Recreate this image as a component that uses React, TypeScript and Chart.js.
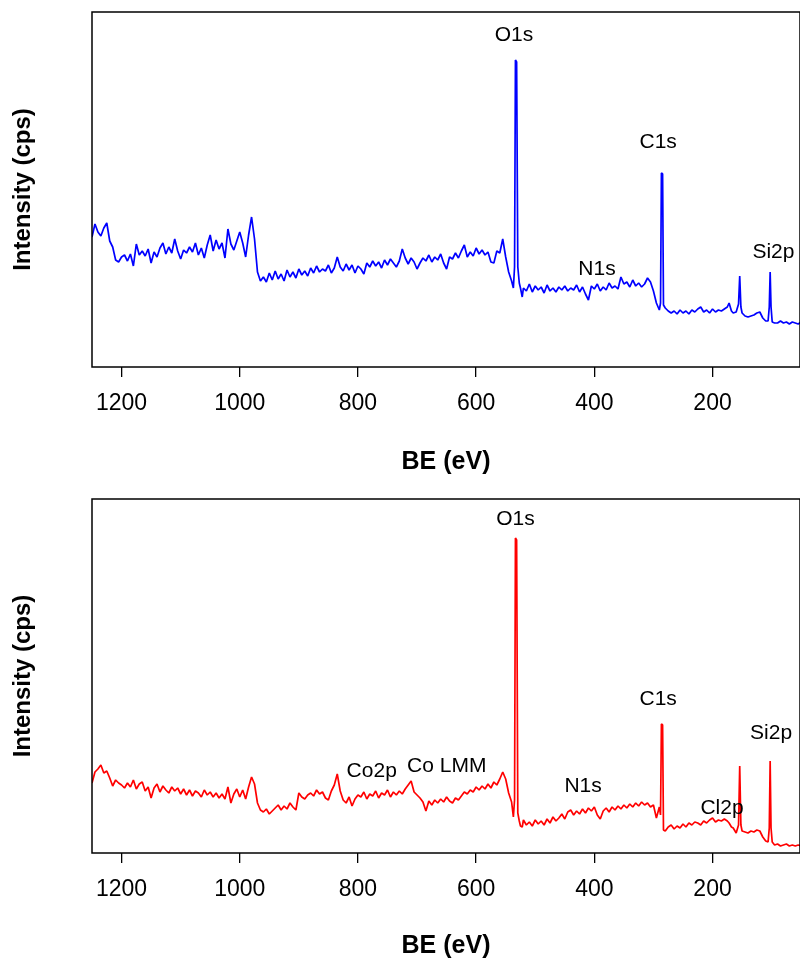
import React, { useEffect, useRef } from "react";
import { Chart, registerables } from "chart.js";

Chart.register(...registerables);

// Binding energy grid (eV), shared by both survey spectra
const bindingEnergy = [
  1250, 1245, 1240, 1235, 1230, 1225, 1220, 1215, 1210, 1205,
  1200, 1195, 1190, 1185, 1180, 1175, 1170, 1165, 1160, 1155,
  1150, 1145, 1140, 1135, 1130, 1125, 1120, 1115, 1110, 1105,
  1100, 1095, 1090, 1085, 1080, 1075, 1070, 1065, 1060, 1055,
  1050, 1045, 1040, 1035, 1030, 1025, 1020, 1015, 1010, 1005,
  1000, 995, 990, 985, 980, 975, 970, 965,
  960, 955, 950, 945, 940, 935, 930, 925, 920, 915,
  910, 905, 900, 895, 890, 885, 880, 875, 870, 865,
  860, 855, 850, 845, 840, 835, 830, 825, 820, 815,
  810, 805, 800, 795, 790, 785, 780, 775, 770, 765,
  760, 755, 750, 745, 740, 735, 730, 725, 720, 715,
  710, 705, 700, 695, 690, 685, 680, 675, 670, 665,
  660, 655, 650, 645, 640, 635, 630, 625, 620, 615,
  610, 605, 600, 595, 590, 585, 580, 575, 570, 565,
  560, 555, 550, 545, 540,
  537, 535, 533.5, 531.5, 529.5, 527, 525, 522, 520,
  515, 510, 505, 500, 495, 490, 485, 480, 475, 470,
  465, 460, 455, 450, 445, 440, 435, 430, 425, 420,
  415, 410, 405, 400, 395, 390, 385, 380, 375, 370,
  365, 360, 355, 350, 345, 340, 335, 330, 325, 320,
  315, 310, 305, 300, 295, 290,
  288, 286.5, 284.5, 283, 280,
  275, 270,
  265, 260, 255, 250, 245, 240, 235, 230, 225, 220,
  215, 210, 205, 200, 195, 190, 185, 180, 175,
  172, 168, 165, 160, 156, 154, 152, 150,
  145, 140, 135, 130, 125, 120, 115, 110,
  106, 104, 102.5, 101, 99,
  95, 90, 85, 80, 75, 70, 65, 60, 55, 50, 45, 40,
];

// Upper (blue) spectrum intensity, arbitrary units
const intensityTop = [
  13.0, 14.3, 13.5, 13.1, 13.9, 14.4, 12.6, 12.0, 10.7, 10.5,
  11.0, 11.2, 10.6, 11.3, 10.1, 12.3, 11.2, 11.6, 11.1, 11.8,
  10.4, 11.5, 11.0, 11.9, 12.4, 11.3, 12.0, 11.4, 12.8, 11.6,
  10.8, 11.7, 11.4, 12.0, 11.5, 12.4, 11.2, 11.9, 10.9, 12.2,
  13.2, 11.6, 12.7, 11.8, 12.4, 10.9, 13.8, 12.3, 11.7, 12.6,
  13.5, 12.4, 11.0, 13.2, 15.0, 12.8, 9.5, 8.6,
  9.0, 8.5, 9.4, 8.7, 9.6, 8.8, 9.3, 8.6, 9.7, 9.0,
  9.5, 8.9, 9.8, 9.2, 9.6, 9.1, 9.9, 9.4, 10.1, 9.5,
  9.8, 9.6, 10.2, 9.4, 9.9, 11.0, 10.0, 9.6, 10.3, 9.7,
  10.2, 9.4, 10.1, 9.8, 9.3, 10.4, 10.0, 10.6, 10.1, 10.5,
  9.9, 10.7, 10.2, 10.8, 10.4, 10.0, 10.6, 11.8, 10.9, 10.3,
  10.9, 10.5, 9.8, 10.4, 10.9, 10.6, 11.2, 10.5, 11.0, 10.7,
  11.3, 10.4, 9.8, 11.0, 10.8, 11.4, 10.9, 11.6, 12.2, 11.0,
  11.5, 11.1, 11.9, 11.3, 11.7, 11.2, 11.5, 10.5, 10.4, 11.6,
  11.4, 12.8, 11.0, 9.5, 8.6,
  7.9, 10.0, 30.7, 30.5, 10.0, 8.4, 7.9, 7.0, 7.9,
  7.6, 8.3, 7.5, 8.1, 7.7, 8.0, 7.4, 8.2, 7.6, 7.9,
  7.5, 8.0, 7.7, 8.1, 7.6, 7.9, 7.7, 8.2, 7.5, 8.0,
  7.3, 6.7, 8.1, 7.8, 8.3, 7.6, 8.0, 7.7, 8.4, 7.9,
  8.1, 7.8, 9.0, 8.3, 8.5, 8.0, 8.7, 8.1, 8.4, 8.0,
  8.3, 8.9, 8.5, 7.6, 6.4, 5.7,
  6.4, 19.4, 19.3, 6.2, 5.9,
  5.6, 5.4,
  5.6, 5.3, 5.7, 5.4, 5.6, 5.3, 5.7, 5.5, 5.8, 6.0,
  5.5, 5.7, 5.4, 5.8, 5.5, 5.7, 5.6, 5.8, 6.0,
  6.4, 5.6, 5.4, 5.5, 6.3, 9.1, 6.0, 5.4,
  5.1, 5.0, 5.1, 5.2, 5.4, 5.5, 4.9, 4.6,
  4.6, 6.0, 9.5, 6.0, 4.5,
  4.4, 4.4, 4.6, 4.4, 4.5, 4.3, 4.5, 4.4, 4.3, 4.5, 4.4, 4.3,
];

// Lower (red) spectrum intensity, arbitrary units
const intensityBottom = [
  7.0, 8.1, 8.4, 8.8, 8.0, 8.2, 7.5, 6.7, 7.3, 7.0,
  6.8, 6.5, 7.0, 6.6, 7.3, 6.4, 6.9, 7.1, 6.2, 6.6,
  5.5, 6.5, 6.9, 6.1, 6.7, 6.3, 6.0, 6.6, 6.2, 6.5,
  5.9, 6.4, 5.8, 6.3, 5.7, 6.2, 6.0, 5.6, 6.3, 5.8,
  6.1, 5.6, 6.0, 5.5, 5.9, 5.4, 6.6, 5.0, 5.9, 6.4,
  5.6, 6.3, 5.4, 6.6, 7.6, 6.9, 5.0, 4.3,
  4.1, 4.4, 3.9, 4.2, 4.5, 4.8, 4.3, 4.7, 4.4, 5.0,
  4.6, 4.3, 6.0, 5.6, 5.4, 5.8, 6.0, 5.7, 6.3, 5.9,
  6.1, 5.5, 5.3, 6.2, 6.8, 7.9, 6.2, 5.3, 5.0, 5.6,
  4.7, 5.4, 5.8, 5.6, 6.1, 5.4, 5.9, 5.7, 6.2, 5.5,
  6.0, 5.8, 6.3, 5.6, 6.1, 5.8, 6.2, 5.9, 6.4, 6.8,
  7.2, 6.1, 5.8, 5.5, 5.1, 4.2, 5.2, 4.8, 5.3, 5.0,
  5.4, 5.1, 5.6, 5.2, 5.0, 5.5, 5.3, 5.7, 6.1, 5.9,
  6.3, 6.1, 6.6, 6.3, 6.7, 6.4, 6.9, 6.5, 7.1, 6.8,
  7.4, 8.1, 7.4, 6.0, 5.1,
  3.6, 5.3, 31.5, 31.3, 4.0, 3.2, 2.7, 2.6, 3.3,
  2.8, 3.1, 2.7, 3.3, 2.9, 3.2, 2.8, 3.4, 3.0, 3.6,
  3.2, 3.5, 3.9, 3.4, 4.1, 4.3, 3.8, 4.2, 3.9, 4.4,
  4.0, 4.5, 4.2, 4.6, 3.8, 3.4, 4.2, 4.5, 4.1, 4.6,
  4.3, 4.7, 4.4, 4.8, 4.5, 4.9, 4.6, 5.0, 4.7, 5.1,
  4.8, 5.0, 4.6, 4.8, 3.5, 4.6,
  3.8, 12.9, 12.8, 2.3, 2.2,
  2.6, 2.8,
  2.4, 2.7, 2.5, 2.9, 2.6, 3.0, 2.8, 3.1, 3.0, 2.8,
  3.2, 3.0, 3.3, 3.5, 3.1, 3.3, 3.2, 3.4, 3.2,
  3.0, 2.6, 2.5, 2.0, 2.8, 8.7, 2.8, 2.2,
  2.1, 2.0, 2.2, 2.1, 2.3, 2.2, 1.6, 1.2,
  1.1, 2.5, 9.2, 2.5, 1.1,
  0.8, 0.9, 0.7, 0.8, 0.9, 0.7, 0.8, 0.7, 0.8, 0.7, 0.8, 0.7,
];

const tickValues = [1200, 1000, 800, 600, 400, 200];

const topPeakNames = ["O1s", "C1s", "N1s", "Si2p"];
const topPeakBE = [536, 292, 395.5, 97];
const topPeakI = [33.2, 22.5, 9.8, 11.5];

const bottomPeakNames = ["O1s", "C1s", "N1s", "Cl2p", "Si2p", "Co2p", "Co LMM"];
const bottomPeakBE = [533.4, 292, 419, 184, 101, 776.7, 649.8];
const bottomPeakI = [33.4, 15.4, 6.7, 4.5, 12.0, 8.2, 8.7];

const FONT = "'Liberation Sans', Arial, Helvetica, sans-serif";

function labelPlugin(names: string[], xs: number[], ys: number[]) {
  return {
    id: "peakLabels",
    afterDatasetsDraw(chart: any) {
      const { ctx, chartArea, scales } = chart;
      ctx.save();
      ctx.strokeStyle = "#000";
      ctx.lineWidth = 1.5;
      ctx.strokeRect(
        chartArea.left,
        chartArea.top,
        chartArea.right - chartArea.left,
        chartArea.bottom - chartArea.top
      );
      ctx.fillStyle = "#000";
      ctx.font = `21px ${FONT}`;
      ctx.textAlign = "center";
      ctx.textBaseline = "middle";
      names.forEach((t, i) => {
        ctx.fillText(t, scales.x.getPixelForValue(xs[i]), scales.y.getPixelForValue(ys[i]));
      });
      ctx.restore();
    },
  };
}

function makeConfig(
  values: number[],
  color: string,
  yMax: number,
  padTop: number,
  axisHeight: number,
  titlePad: number,
  plugin: any
): any {
  return {
    type: "line",
    data: {
      datasets: [
        {
          data: bindingEnergy.map((e, i) => ({ x: e, y: values[i] })),
          borderColor: color,
          borderWidth: 1.7,
          borderJoinStyle: "bevel",
          pointRadius: 0,
          tension: 0,
          fill: false,
        },
      ],
    },
    options: {
      animation: false,
      responsive: false,
      devicePixelRatio: 1,
      layout: { padding: { top: padTop, right: 6, bottom: 0, left: 0 } },
      plugins: { legend: { display: false }, tooltip: { enabled: false } },
      scales: {
        x: {
          type: "linear",
          reverse: true,
          min: 52,
          max: 1250,
          afterBuildTicks: (s: any) => {
            s.ticks = tickValues.map((v) => ({ value: v }));
          },
          afterFit: (s: any) => {
            s.height = axisHeight;
          },
          ticks: {
            color: "#000",
            font: { family: FONT, size: 23 },
            padding: 13,
            maxRotation: 0,
            autoSkip: false,
            callback: (v: any) => String(v),
          },
          grid: {
            display: true,
            drawOnChartArea: false,
            drawTicks: true,
            tickLength: 10,
            color: "#000",
            lineWidth: 1.3,
          },
          border: { display: false },
          title: {
            display: true,
            text: "BE (eV)",
            color: "#000",
            font: { family: FONT, size: 25, weight: "bold" },
            padding: { top: 0, bottom: titlePad },
          },
        },
        y: {
          type: "linear",
          min: 0,
          max: yMax,
          afterFit: (s: any) => {
            s.width = 92;
          },
          ticks: { display: false },
          grid: { display: false },
          border: { display: false },
          title: {
            display: true,
            text: "Intensity (cps)",
            color: "#000",
            font: { family: FONT, size: 24, weight: "bold" },
            padding: { top: 9, bottom: 0 },
          },
        },
      },
    },
    plugins: [plugin],
  };
}

export default function App() {
  const topRef = useRef<HTMLCanvasElement>(null);
  const botRef = useRef<HTMLCanvasElement>(null);

  useEffect(() => {
    const c1 = new Chart(
      topRef.current as HTMLCanvasElement,
      makeConfig(intensityTop, "#0000ff", 35.5, 12, 114, 4, labelPlugin(topPeakNames, topPeakBE, topPeakI))
    );
    const c2 = new Chart(
      botRef.current as HTMLCanvasElement,
      makeConfig(intensityBottom, "#ff0000", 35.4, 18, 109, 1, labelPlugin(bottomPeakNames, bottomPeakBE, bottomPeakI))
    );
    return () => {
      c1.destroy();
      c2.destroy();
    };
  }, []);

  return (
    <div
      style={{
        position: "fixed",
        left: 0,
        top: 0,
        width: 800,
        height: 962,
        overflow: "hidden",
        background: "#fff",
      }}
    >
      <canvas
        ref={topRef}
        width={806}
        height={481}
        style={{ position: "absolute", left: 0, top: 0, width: 806, height: 481 }}
      />
      <canvas
        ref={botRef}
        width={806}
        height={481}
        style={{ position: "absolute", left: 0, top: 481, width: 806, height: 481 }}
      />
    </div>
  );
}
